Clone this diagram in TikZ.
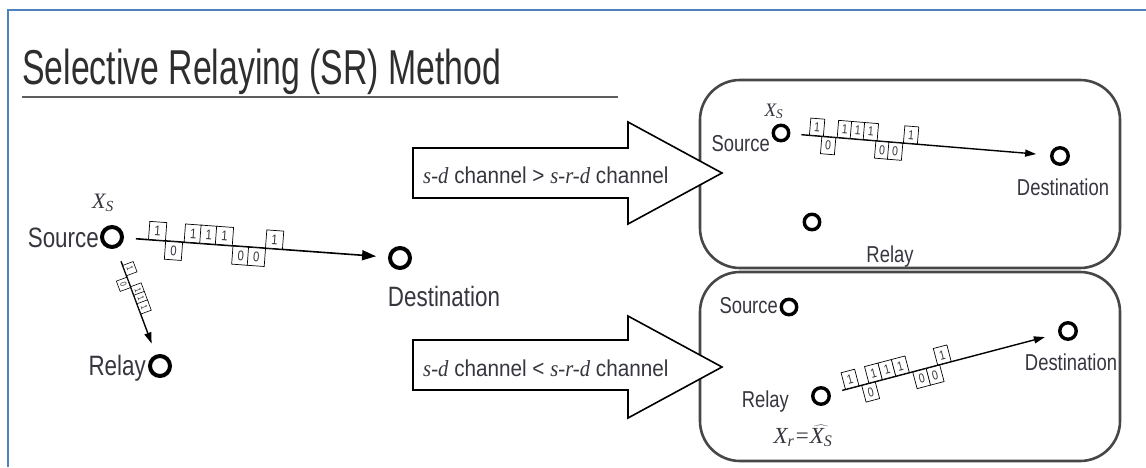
\documentclass[tikz,border=0pt]{standalone}
\usepackage{fontspec}
\usepackage{graphicx}
\setmainfont{Liberation Sans}
\newfontfamily\tms{Liberation Serif}
\usetikzlibrary{arrows.meta,calc}

\definecolor{ink}{HTML}{36363F}
\definecolor{frameblue}{HTML}{4F81BD}
\definecolor{panelgray}{HTML}{474747}
\definecolor{rulegray}{HTML}{5E5E5E}

% horizontally condensed text
\newcommand\cond[2]{\scalebox{#1}[1]{#2}}
\newcommand\fs[1]{\fontsize{#1}{#1}\selectfont}
% a train of bit boxes along the line from #1 to #2
\newcommand\bits[5]{%
  \path (#1) -- (#2)
    \foreach \p/\d/\a [count=\k] in {#5} {
      node[#3, sloped, pos=\p, anchor=\a] (#4\k) {\cond{0.8}{\d}}
    };%
}

\begin{document}
\begin{tikzpicture}[x=1pt, y=-1pt,
  lbl/.style={text=ink, inner sep=0pt},
  bigl/.style={lbl, font=\fs{28}},
  smll/.style={lbl, font=\fs{23}},
  stnL/.style={circle, draw=black, line width=4pt, minimum size=20pt, inner sep=0pt},
  stnS/.style={circle, draw=black, line width=3.4pt, minimum size=15.5pt, inner sep=0pt},
  bitbox/.style={draw=black, line width=0.7pt, fill=white, inner sep=0pt, text=ink},
  bitL/.style={bitbox, minimum width=17pt, minimum height=18pt, font=\fs{14}},
  bitS/.style={bitbox, minimum width=14pt, minimum height=17pt, font=\fs{13}},
  bitT/.style={bitbox, line width=0.6pt, minimum width=11pt, minimum height=11pt, font=\fs{9}},
  link/.style={draw=black, line width=1.6pt},
  tipL/.style={-{Triangle[length=14pt, width=10pt]}},
  tipS/.style={-{Triangle[length=11pt, width=7pt]}},
  panel/.style={draw=panelgray, line width=2.6pt, fill=white, rounded corners=40pt, inner sep=0pt},
  blockarrow/.style={draw=black, line width=1.6pt, fill=white, line join=miter},
]
\useasboundingbox (0,0) rectangle (1146,467);

% slide frame
\draw[frameblue, line width=2pt] (8,467) -- (8,10) -- (1146,10);

% heading and rule
\node[lbl, anchor=base west, text=black!82] (title) at (22,84)
  {\fs{49}\cond{0.69}{Selective Relaying (SR) Method}};
\draw[rulegray, line width=2.4pt] (22,97) -- (618,97);

% ---------- general three-node network ----------
\node[stnL] (src) at (112,237) {};
\node[stnL] (dst) at (400,258) {};
\node[stnL] (rel) at (160,366) {};
\node[bigl, anchor=base east] (srcT) at (99,247) {\cond{0.8}{Source}};
\node[bigl, anchor=base] (dstT) at (444,306) {\cond{0.8}{Destination}};
\node[bigl, anchor=base east] (relT) at (146,375) {\cond{0.8}{Relay}};
\node[lbl, anchor=base, font=\tms\itshape\fs{22}] (xs) at (103,208) {X\textsubscript{S}};

\draw[link, tipL, shorten <=12pt, shorten >=12pt] (src) -- (dst);
\draw[link, line width=1.4pt, tipS, shorten <=14pt, shorten >=12pt] (src) -- (rel);
\bits{src}{dst}{bitL}{mb}{0.125/1/south, 0.19/0/north, 0.26/1/south, 0.319/1/south,
  0.378/1/south, 0.445/0/north, 0.504/0/north, 0.568/1/south}
\bits{src}{rel}{bitT}{rb}{0.21/1/south, 0.32/0/north, 0.41/1/south, 0.49/1/south, 0.57/1/south}

% ---------- case 1: direct link is better ----------
\node[panel, minimum width=420pt, minimum height=188pt] (p1) at (910,174) {};
\node[stnS] (s1) at (781,133) {};
\node[stnS, minimum size=16.5pt] (d1) at (1060,156) {};
\node[stnS] (r1) at (812,222) {};
\node[smll, anchor=base east] (s1T) at (770,151) {\cond{0.8}{Source}};
\node[smll, anchor=base] (d1T) at (1063,195) {\cond{0.8}{Destination}};
\node[smll, anchor=base] (r1T) at (890,262) {\cond{0.8}{Relay}};
\node[lbl, anchor=base, font=\tms\itshape\fs{19}] (xs1) at (774,116) {X\textsubscript{S}};
\draw[link, line width=1.4pt, tipS, shorten <=11pt, shorten >=14pt] (s1) -- (d1);
\bits{s1}{d1}{bitS}{ab}{0.10/1/south, 0.148/0/north, 0.207/1/south, 0.257/1/south,
  0.307/1/south, 0.356/0/north, 0.406/0/north, 0.462/1/south}

% ---------- case 2: relayed link is better ----------
\node[panel, minimum width=420pt, minimum height=189pt] (p2) at (910,366.5) {};
\node[stnS] (s2) at (789,307) {};
\node[stnS, minimum size=16.5pt] (d2) at (1068,331) {};
\node[stnS, minimum size=16.5pt] (r2) at (821,396) {};
\node[smll, anchor=base east] (s2T) at (778,313) {\cond{0.8}{Source}};
\node[smll, anchor=base] (d2T) at (1071,370) {\cond{0.8}{Destination}};
\node[smll, anchor=base east] (r2T) at (789,407) {\cond{0.8}{Relay}};
\node[lbl, anchor=base, font=\tms\itshape\fs{23}] (xr) at (803,443)
  {X\textsubscript{r}=$\widehat{\mbox{\tms\itshape\fs{23}X\textsubscript{S}}}$};
\draw[link, line width=1.4pt, tipS, shorten <=12pt, shorten >=14pt] (r2) -- (d2);
\bits{r2}{d2}{bitS}{bb}{0.095/1/south, 0.166/0/north, 0.198/1/south, 0.257/1/south,
  0.316/1/south, 0.39/0/north, 0.449/0/north, 0.50/1/south}

% ---------- decision arrows ----------
\draw[blockarrow] (413,148) -- (628,148) -- (628,122) -- (722,173)
  -- (628,224) -- (628,198) -- (413,198) -- cycle;
\node[lbl, anchor=base west, font=\fs{23}] (c1) at (423,183)
  {\cond{0.9}{{\tms\itshape s-d} channel \textgreater{} {\tms\itshape s-r-d} channel}};

\draw[blockarrow] (413,340) -- (628,340) -- (628,316) -- (722,367)
  -- (628,418) -- (628,390) -- (413,390) -- cycle;
\node[lbl, anchor=base west, font=\fs{23}] (c2) at (423,376)
  {\cond{0.9}{{\tms\itshape s-d} channel \textless{} {\tms\itshape s-r-d} channel}};
\end{tikzpicture}
\end{document}
